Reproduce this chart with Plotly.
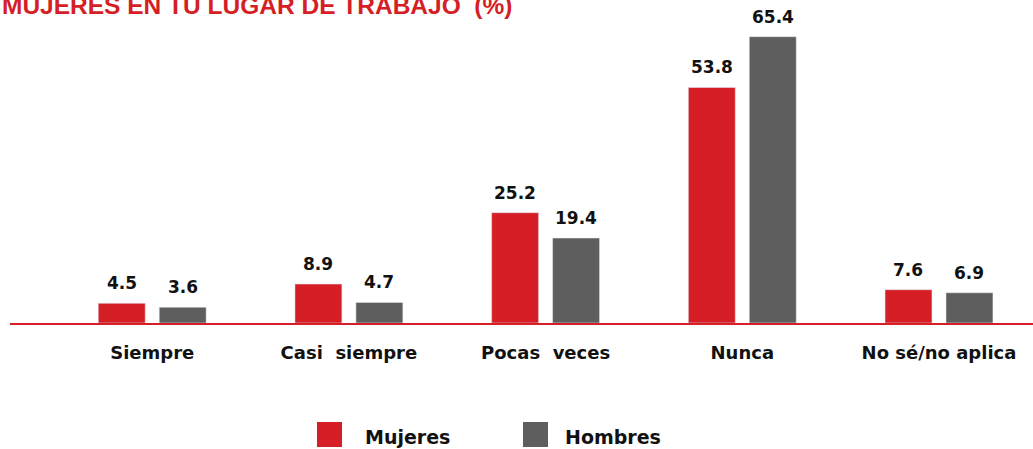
import plotly.graph_objects as go

categories = ["Siempre", "Casi  siempre", "Pocas  veces", "Nunca", "No sé/no aplica"]
mujeres = [4.5, 8.9, 25.2, 53.8, 7.6]
hombres = [3.6, 4.7, 19.4, 65.4, 6.9]
series_names = ["Mujeres", "Hombres"]
title_text = "MUJERES EN TU LUGAR DE TRABAJO  (%)"

RED = "#D51E25"
GRAY = "#5E5E5E"
FONT = "DejaVu Sans"

W, H = 1033, 449
ML, MR, MT, MB = 10, 0, 10, 126
PW, PH = W - ML - MR, H - MT - MB

def px_to_paper_x(px):
    return (px - ML) / PW

def px_to_paper_y(py):
    return (H - MB - py) / PH

fig = go.Figure()
fig.add_trace(go.Bar(x=categories, y=mujeres, name=series_names[0], marker_color=RED, showlegend=False))
fig.add_trace(go.Bar(x=categories, y=hombres, name=series_names[1], marker_color=GRAY, showlegend=False))

annotations = []
slot = 61
for vals, shift in ((mujeres, -slot / 2), (hombres, slot / 2)):
    for c, v in zip(categories, vals):
        annotations.append(dict(x=c, y=v, xref="x", yref="y", text=f"{v:.1f}", showarrow=False,
                                xshift=shift, yanchor="bottom", yshift=8,
                                font=dict(family=FONT, size=17, color="#111111", weight="bold")))

# title (partially cut off at the top, as in the original)
annotations.append(dict(x=px_to_paper_x(0), y=px_to_paper_y(21), xref="paper", yref="paper",
                        xanchor="left", yanchor="bottom", showarrow=False, text=title_text,
                        font=dict(family="Liberation Sans", size=24.5, color=RED, weight="bold")))

# manual legend
shapes = []
legend_items = [(series_names[0], RED, 317, 363), (series_names[1], GRAY, 523, 563)]
for name, col, sx, tx in legend_items:
    shapes.append(dict(type="rect", xref="paper", yref="paper",
                       x0=px_to_paper_x(sx), x1=px_to_paper_x(sx + 25),
                       y0=px_to_paper_y(447), y1=px_to_paper_y(422),
                       fillcolor=col, line=dict(width=0)))
    annotations.append(dict(x=px_to_paper_x(tx), y=px_to_paper_y(437), xref="paper", yref="paper",
                            xanchor="left", yanchor="middle", showarrow=False, text=name,
                            font=dict(family=FONT, size=19, color="#111111", weight="bold")))

fig.update_layout(
    width=W, height=H,
    margin=dict(l=ML, r=MR, t=MT, b=MB),
    paper_bgcolor="white", plot_bgcolor="white",
    barmode="group", bargap=0.38, bargroupgap=0.23,
    showlegend=False,
    annotations=annotations, shapes=shapes,
    xaxis=dict(range=[-0.723, 4.478], showline=True, linecolor=RED, linewidth=2,
               showgrid=False, ticks="", ticklabelstandoff=12,
               tickfont=dict(family=FONT, size=18, color="#111111", weight="bold")),
    yaxis=dict(range=[0, 71.5], visible=False, showgrid=False, zeroline=False),
)

fig.write_html("out.html", config={"displayModeBar": False},
               post_script="document.body.style.margin='0';document.body.style.overflow='hidden';")
